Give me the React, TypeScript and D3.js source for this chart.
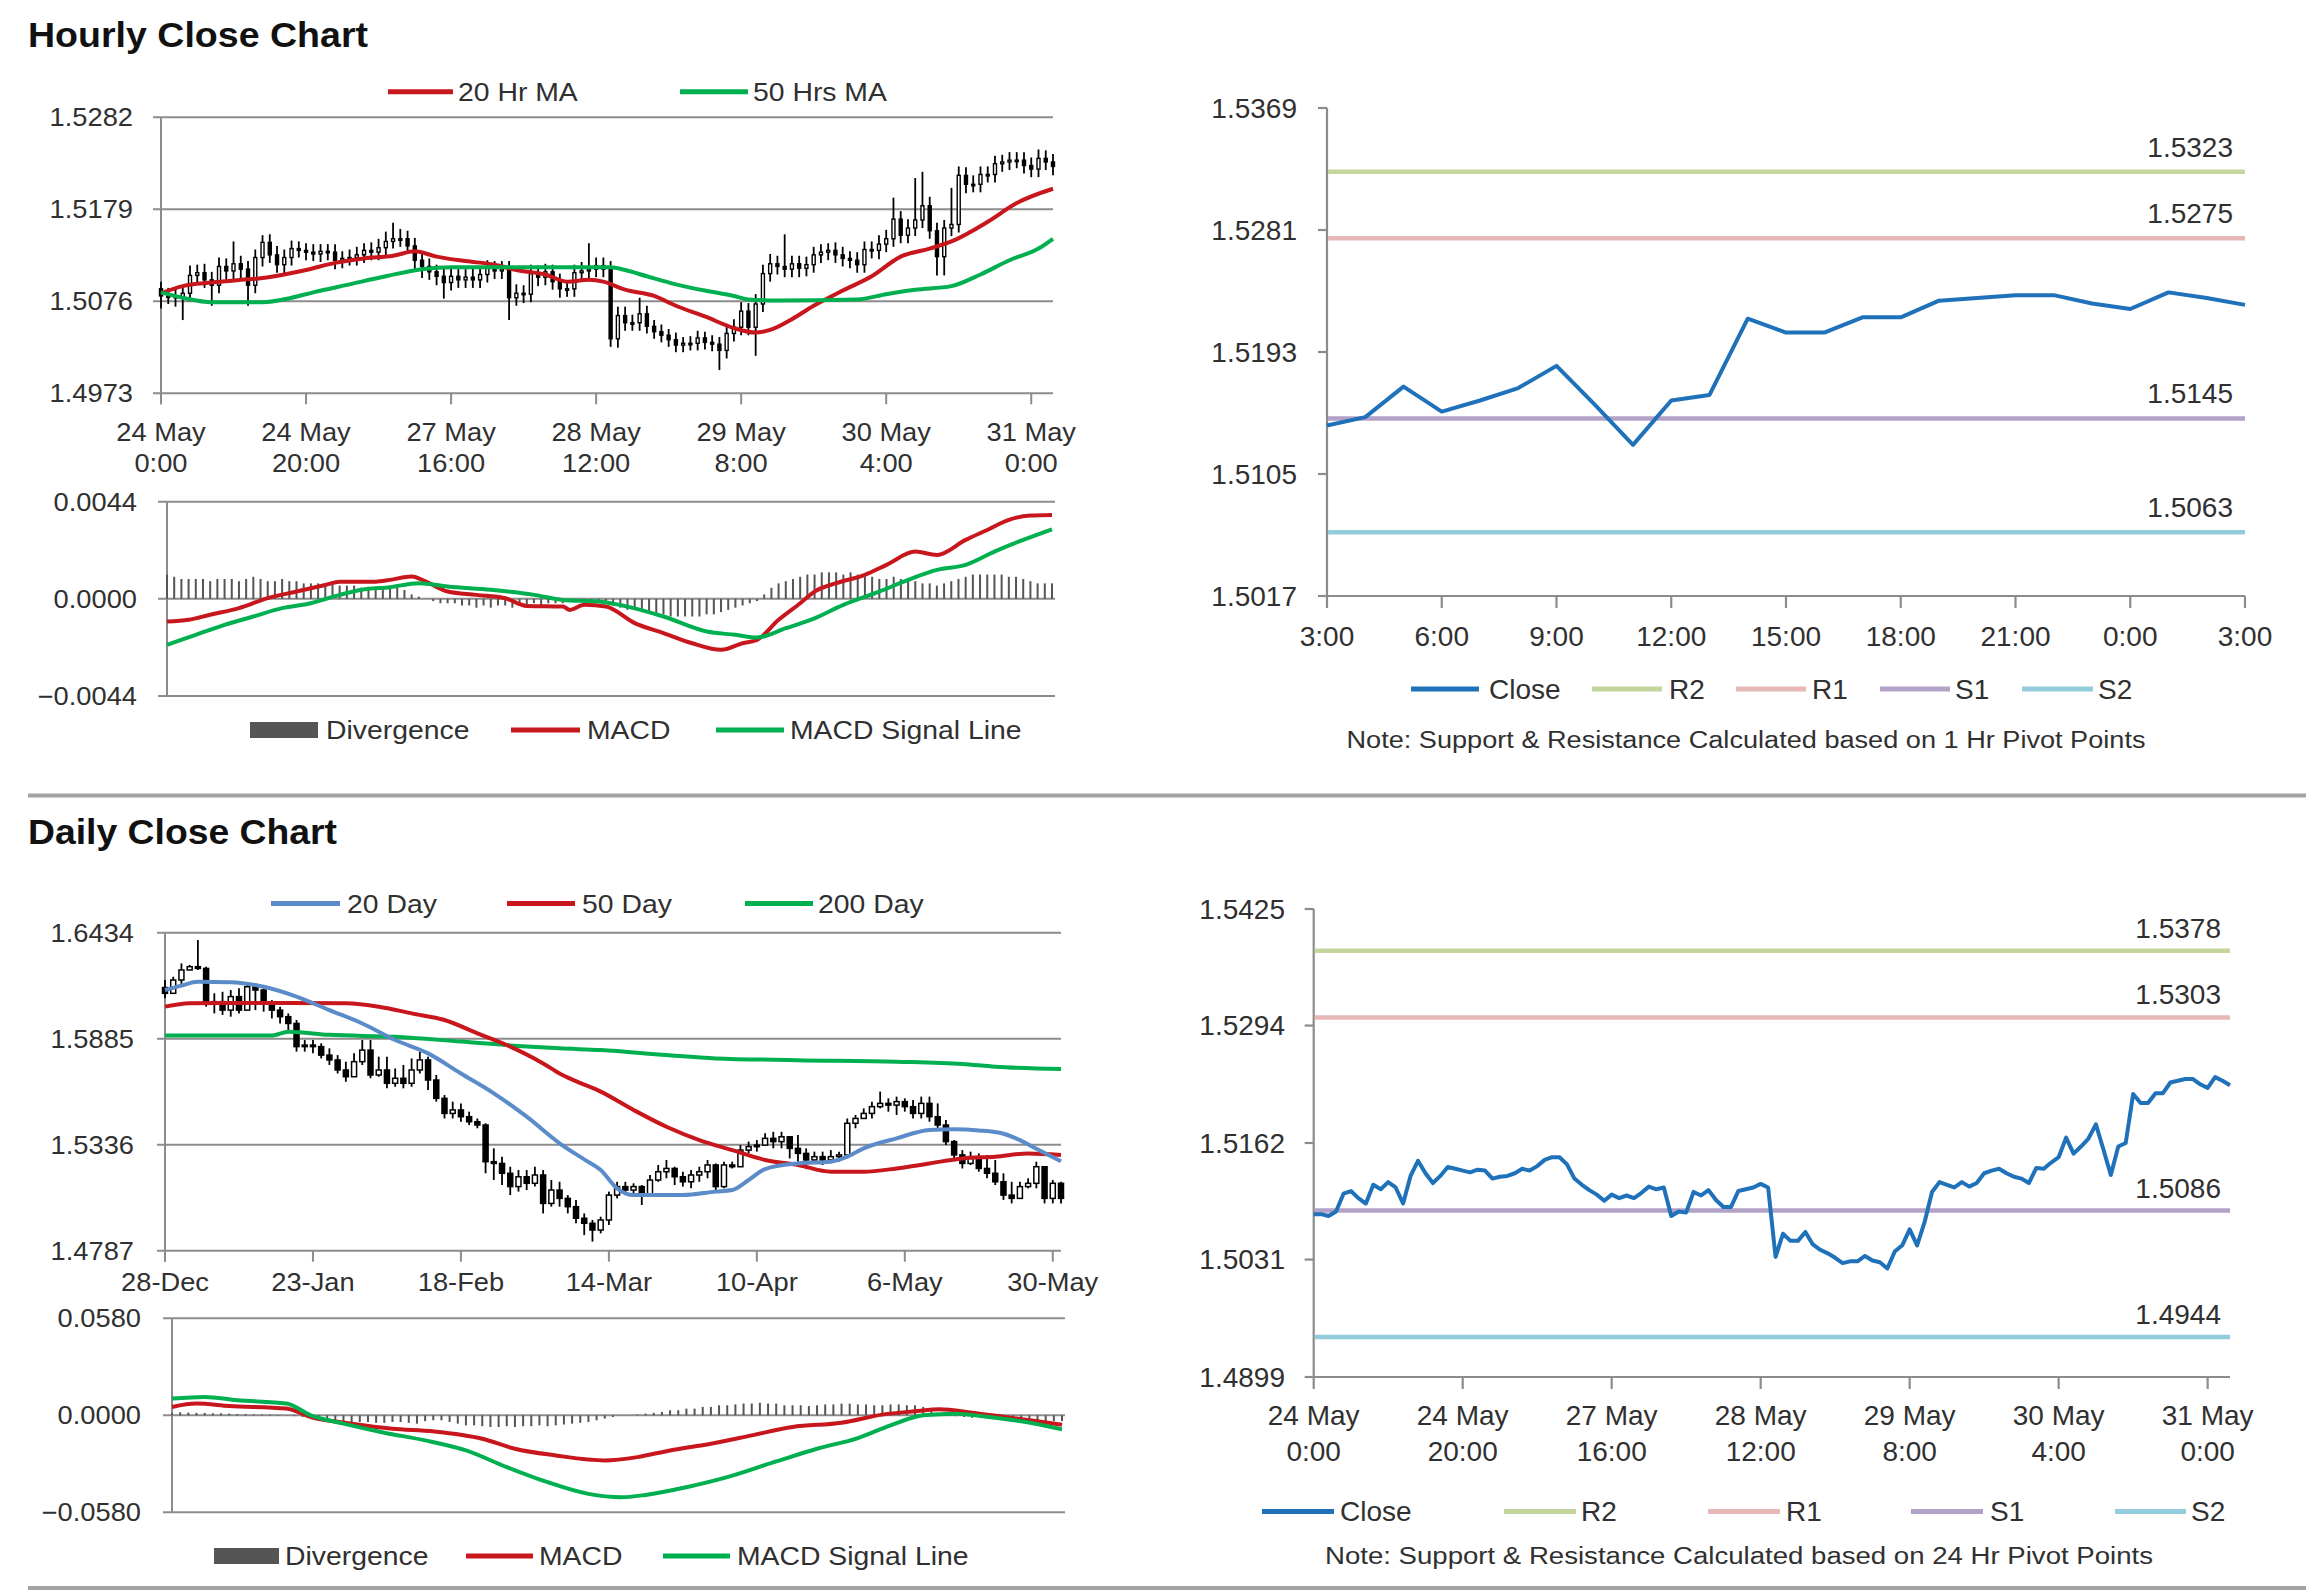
import React from "react";
import * as d3 from "d3";

// ===================== DATA =====================
// Hourly (24 May 0:00 .. 31 May 3:00), one value per hour bar
const hourlyClose = [
  1.5082, 1.5082, 1.5080, 1.5085, 1.5105, 1.5108, 1.5100, 1.5094, 1.5115, 1.5110,
  1.5118, 1.5112, 1.5094, 1.5125, 1.5142, 1.5128, 1.5117, 1.5125, 1.5135, 1.5133,
  1.5131, 1.5129, 1.5132, 1.5131, 1.5122, 1.5124, 1.5125, 1.5128, 1.5133, 1.5131,
  1.5136, 1.5143, 1.5146, 1.5146, 1.5138, 1.5122, 1.5115, 1.5109, 1.5104, 1.5097,
  1.5104, 1.5100, 1.5103, 1.5100, 1.5106, 1.5113, 1.5110, 1.5112, 1.5080, 1.5085,
  1.5084, 1.5107, 1.5103, 1.5109, 1.5098, 1.5090, 1.5090, 1.5108, 1.5110, 1.5112,
  1.5116, 1.5112, 1.5034, 1.5060, 1.5052, 1.5052, 1.5062, 1.5048, 1.5042, 1.5038,
  1.5033, 1.5027, 1.5029, 1.5029, 1.5035, 1.5030, 1.5028, 1.5021, 1.5040, 1.5047,
  1.5065, 1.5047, 1.5073, 1.5107, 1.5118, 1.5115, 1.5112, 1.5118, 1.5113, 1.5117,
  1.5128, 1.5131, 1.5133, 1.5128, 1.5124, 1.5122, 1.5117, 1.5134, 1.5133,
  1.5140, 1.5146, 1.5168, 1.5150, 1.5158, 1.5167, 1.5183, 1.5155, 1.5126, 1.5158,
  1.5162, 1.5217, 1.5207, 1.5207, 1.5218, 1.5218, 1.5230, 1.5232, 1.5234, 1.5234,
  1.5228, 1.5224, 1.5236, 1.5232, 1.5227,
];
const hourlyFirstOpen = 1.509;
// upper / lower shadows, in pips beyond the candle body
const hourlyWickUp = [
  8, 9, 8, 9, 11, 9, 10, 9, 10, 9, 25, 9, 9, 9, 8, 9, 10, 9, 9, 8,
  8, 9, 8, 8, 9, 8, 9, 9, 8, 9, 10, 11, 18, 11, 9, 9, 9, 9, 8, 9,
  9, 8, 9, 10, 8, 9, 8, 9, 9, 10, 9, 10, 9, 9, 8, 9, 9, 9, 10, 29,
  9, 9, 9, 10, 10, 9, 18, 9, 7, 8, 7, 8, 7, 8, 8, 7, 8, 8, 10, 9,
  10, 9, 11, 10, 11, 9, 36, 9, 9, 9, 9, 9, 8, 9, 9, 8, 9, 9, 9, 10,
  10, 24, 9, 10, 47, 38, 10, 9, 9, 41, 10, 9, 10, 9, 9, 9, 8, 9, 9, 9,
  9, 10, 9, 9,
];
const hourlyWickDown = [
  14, 9, 10, 25, 9, 10, 9, 23, 9, 10, 9, 10, 23, 9, 10, 9, 9, 10, 9, 8,
  9, 8, 9, 9, 10, 9, 8, 9, 9, 9, 9, 9, 8, 9, 9, 10, 13, 9, 10, 18,
  9, 9, 9, 9, 9, 9, 9, 9, 25, 9, 10, 9, 10, 9, 9, 10, 9, 9, 9, 9,
  9, 9, 9, 10, 9, 9, 9, 8, 8, 8, 8, 8, 8, 8, 8, 8, 8, 22, 9, 9,
  9, 9, 32, 9, 9, 9, 9, 9, 10, 9, 9, 9, 9, 9, 9, 9, 9, 9, 9, 10,
  9, 9, 9, 9, 9, 9, 9, 21, 21, 9, 9, 10, 9, 9, 9, 9, 9, 9, 9, 9,
  9, 9, 9, 10,
];
const hourlyPriceTicks = [1.4973, 1.5076, 1.5179, 1.5282];
const hourlyTickIdx = [0, 20, 40, 60, 80, 100, 120];
const hourlyTickDay = ["24 May", "24 May", "27 May", "28 May", "29 May", "30 May", "31 May"];
const hourlyTickTime = ["0:00", "20:00", "16:00", "12:00", "8:00", "4:00", "0:00"];
// [bar index, value]
const ma20Hr = [
  [0, 1.5085], [3, 1.5093], [7, 1.5097], [11, 1.51], [14, 1.5102], [17, 1.5106], [20, 1.5111],
  [24, 1.5119], [28, 1.5124], [32, 1.5127], [35, 1.5132], [38, 1.5126], [42, 1.5121], [46, 1.5117],
  [49, 1.5111], [53, 1.5106], [56, 1.5098], [59, 1.51], [61, 1.5098], [64, 1.5089], [68, 1.5082],
  [71, 1.5071], [75, 1.5059], [79, 1.5046], [82, 1.5041], [84, 1.5044], [87, 1.5056], [90, 1.5071],
  [94, 1.5088], [98, 1.5104], [102, 1.5126], [106, 1.5135], [109, 1.5143], [114, 1.5165],
  [118, 1.5186], [123, 1.5202],
];
const ma50Hrs = [
  [0, 1.5086], [3, 1.508], [7, 1.5075], [14, 1.5075], [18, 1.508], [21, 1.5086], [26, 1.5095],
  [31, 1.5104], [36, 1.5112], [40, 1.5114], [62, 1.5114], [64, 1.5111], [67, 1.5104], [71, 1.5095],
  [75, 1.5088], [79, 1.5082], [81, 1.5078], [85, 1.5077], [96, 1.5078], [100, 1.5084], [104, 1.5089],
  [109, 1.5093], [113, 1.5106], [117, 1.5122], [121, 1.5135], [123, 1.5146],
];
const hourlyMacdTicks = [-0.0044, 0, 0.0044];
const hourlyMacd = [
  [0, -0.00103], [3, -0.00095], [6, -0.00072], [10, -0.00042], [14, 0.00003], [18, 0.00033],
  [22, 0.00063], [24, 0.00078], [29, 0.00078], [31, 0.00086], [34, 0.00101], [36, 0.00078],
  [39, 0.00033], [43, 0.00018], [47, 0.00003], [50, -0.00032], [55, -0.00035], [56, -0.0005],
  [58, -0.00027], [61, -0.00035], [65, -0.0011], [69, -0.00155], [73, -0.00201], [77, -0.00231],
  [80, -0.00201], [82, -0.00186], [85, -0.00095], [88, -0.0002], [90, 0.00033], [93, 0.00071],
  [97, 0.00109], [100, 0.00154], [104, 0.00214], [107, 0.00199], [111, 0.00267], [114, 0.00312],
  [117, 0.00358], [120, 0.00377], [123, 0.0038],
];
const hourlySignal = [
  [0, -0.00208], [4, -0.00163], [8, -0.00118], [12, -0.0008], [16, -0.00042], [20, -0.0002],
  [24, 0.00018], [27, 0.00041], [31, 0.00053], [35, 0.00071], [39, 0.00056], [45, 0.00041],
  [51, 0.00018], [55, -0.00005], [60, -0.00012], [64, -0.00035], [69, -0.0008], [75, -0.00148],
  [79, -0.00163], [82, -0.00175], [86, -0.00133], [90, -0.00088], [94, -0.00027], [99, 0.00033],
  [103, 0.00086], [107, 0.00131], [111, 0.00154], [115, 0.00214], [119, 0.00267], [123, 0.00315],
];
const hourlyDivergence = [
  0.0011, 0.001, 0.0009, 0.0009, 0.0009, 0.0009, 0.0008, 0.0009, 0.0009, 0.0009,
  0.0008, 0.0009, 0.001, 0.0009, 0.0008, 0.0008, 0.0009, 0.0008, 0.0008, 0.0007,
  0.0007, 0.0007, 0.0006, 0.0007, 0.0006, 0.0006, 0.0006, 0.0005, 0.0005, 0.0005,
  0.0005, 0.0005, 0.0006, 0.0004, 0.0002, 0.0001, 0.0, -0.0001, -0.0002, -0.0002,
  -0.0002, -0.0003, -0.0003, -0.0004, -0.0003, -0.0004, -0.0003, -0.0003, -0.0004, -0.0003,
  -0.0003, -0.0002, -0.0003, -0.0002, -0.0002, -0.0002, -0.0001, -0.0001, -0.0001, -0.0001,
  -0.0001, -0.0002, -0.0003, -0.0004, -0.0005, -0.0005, -0.0006, -0.0006, -0.0007, -0.0007,
  -0.0008, -0.0008, -0.0008, -0.0008, -0.0008, -0.0007, -0.0007, -0.0006, -0.0005, -0.0004,
  -0.0003, -0.0002, -0.0001, 0.0002, 0.0005, 0.0007, 0.0008, 0.0009, 0.001, 0.0011,
  0.0011, 0.0012, 0.0012, 0.0012, 0.0011, 0.0012, 0.0011, 0.001, 0.001, 0.0009,
  0.0009, 0.001, 0.0009, 0.0009, 0.0008, 0.0007, 0.0007, 0.0006, 0.0007, 0.0008,
  0.0009, 0.001, 0.0011, 0.0011, 0.0011, 0.0011, 0.0011, 0.001, 0.001, 0.0009,
  0.0008, 0.0007, 0.0007, 0.0007,
];

// Hourly pivot chart (last 24 hours of hourlyClose: 30 May 3:00 .. 31 May 3:00)
const hourlyPivotStart = 99;
const hourlyPivotTicks = [1.5017, 1.5105, 1.5193, 1.5281, 1.5369];
const hourlyPivotTimes = ["3:00", "6:00", "9:00", "12:00", "15:00", "18:00", "21:00", "0:00", "3:00"];
const pivotNames = ["R2", "R1", "S1", "S2"];
const hourlyPivotValues = [1.5323, 1.5275, 1.5145, 1.5063];

// Daily (28-Dec .. 31-May), one value per trading day
const dailyFirstOpen = 1.615;
const dailyClose = [
  1.612, 1.6189, 1.6241, 1.6258, 1.6249, 1.6068, 1.6077, 1.6033, 1.6103, 1.6033,
  1.6154, 1.6137, 1.6068, 1.6033, 1.5999, 1.5964, 1.5844, 1.5852, 1.5844, 1.58,
  1.5775, 1.5723, 1.5688, 1.5766, 1.5826, 1.5697, 1.5723, 1.5654, 1.568, 1.5654,
  1.5723, 1.5775, 1.5671, 1.5576, 1.5498, 1.5516, 1.5481, 1.5455, 1.5438, 1.5248,
  1.5239, 1.5188, 1.5119, 1.517, 1.5136, 1.5179, 1.5032, 1.5101, 1.5058, 1.5015,
  1.4955, 1.4929, 1.4894, 1.4946, 1.5075, 1.5119, 1.5101, 1.5119, 1.5075, 1.5153,
  1.5196, 1.5213, 1.517, 1.5144, 1.5179, 1.5196, 1.5231, 1.5119, 1.5231, 1.5222,
  1.5308, 1.5326, 1.5334, 1.5369, 1.5352, 1.5377, 1.5317, 1.5291, 1.5257, 1.5274,
  1.5257, 1.5274, 1.5283, 1.5447, 1.5472, 1.5498, 1.5533, 1.555, 1.5541, 1.5559,
  1.5533, 1.5498, 1.555, 1.5481, 1.5438, 1.5352, 1.5283, 1.5239, 1.5265, 1.5213,
  1.5188, 1.5144, 1.5075, 1.5058, 1.5119, 1.5136, 1.5222, 1.5058, 1.5136, 1.5058,
];
const dailyHigh = [
  1.6189, 1.6206, 1.6275, 1.6267, 1.6396, 1.6258, 1.612, 1.6128, 1.6137, 1.6146,
  1.6172, 1.6172, 1.6146, 1.6085, 1.6051, 1.6016, 1.5982, 1.5878, 1.5878, 1.5861,
  1.5835, 1.58, 1.5766, 1.5809, 1.5878, 1.5878, 1.5792, 1.5792, 1.5731, 1.5749,
  1.5783, 1.5818, 1.5792, 1.5697, 1.5593, 1.5559, 1.555, 1.5507, 1.5472, 1.5447,
  1.5317, 1.5274, 1.5222, 1.5205, 1.5205, 1.5222, 1.5205, 1.5153, 1.5144, 1.5075,
  1.505, 1.498, 1.4946, 1.4963, 1.5093, 1.5144, 1.5144, 1.5136, 1.5127, 1.5179,
  1.5231, 1.5257, 1.5222, 1.5196, 1.5205, 1.5222, 1.5257, 1.5239, 1.5248, 1.5248,
  1.5334, 1.5352, 1.536, 1.5395, 1.5403, 1.5403, 1.5377, 1.5386, 1.5317, 1.53,
  1.53, 1.5308, 1.53, 1.5472, 1.549, 1.5524, 1.5559, 1.5611, 1.5576, 1.5585,
  1.5576, 1.5567, 1.5585, 1.5585, 1.555, 1.5464, 1.536, 1.5308, 1.53, 1.5291,
  1.5283, 1.5257, 1.5188, 1.5144, 1.5144, 1.5162, 1.5248, 1.5144, 1.5153, 1.5144,
];
const dailyLow = [
  1.6094, 1.612, 1.6163, 1.6241, 1.6241, 1.6051, 1.6016, 1.6008, 1.5999, 1.6016,
  1.6033, 1.6033, 1.6025, 1.599, 1.5964, 1.593, 1.5818, 1.5818, 1.5809, 1.5783,
  1.5749, 1.5705, 1.5662, 1.5688, 1.5749, 1.568, 1.5688, 1.5628, 1.5636, 1.5628,
  1.5636, 1.5705, 1.5619, 1.5559, 1.5472, 1.5472, 1.5455, 1.5438, 1.5421, 1.5188,
  1.5153, 1.5127, 1.5075, 1.5093, 1.5101, 1.5119, 1.498, 1.5015, 1.5015, 1.498,
  1.4929, 1.4868, 1.4834, 1.4877, 1.492, 1.5058, 1.5075, 1.5067, 1.5024, 1.5093,
  1.5144, 1.5162, 1.5127, 1.5119, 1.511, 1.5144, 1.5162, 1.5093, 1.511, 1.5213,
  1.5248, 1.5291, 1.53, 1.5334, 1.5317, 1.5317, 1.5265, 1.5248, 1.5231, 1.5239,
  1.5231, 1.5248, 1.5248, 1.5265, 1.5421, 1.5472, 1.5472, 1.5524, 1.5507, 1.549,
  1.5507, 1.5472, 1.5472, 1.5455, 1.5421, 1.5334, 1.5265, 1.5213, 1.5231, 1.5196,
  1.5162, 1.5127, 1.505, 1.5032, 1.5093, 1.511, 1.511, 1.5032, 1.5032, 1.5032,
];
const dailyPriceTicks = [1.4787, 1.5336, 1.5885, 1.6434];
const dailyTickIdx = [0, 18, 36, 54, 72, 90, 108];
const dailyTickLabels = ["28-Dec", "23-Jan", "18-Feb", "14-Mar", "10-Apr", "6-May", "30-May"];
const ma20Day = [
  [0, 1.6137], [2, 1.616], [4, 1.618], [8, 1.6178], [12, 1.6154], [16, 1.6103], [20, 1.6033],
  [24, 1.5964], [28, 1.5878], [32, 1.5809], [36, 1.5705], [40, 1.5602], [44, 1.5481], [48, 1.5343],
  [51, 1.526], [53, 1.5205], [55, 1.511], [57, 1.5075], [63, 1.5075], [67, 1.5093], [69, 1.5101],
  [71, 1.5153], [73, 1.521], [77, 1.5239], [81, 1.5248], [83, 1.5274], [85, 1.5317], [89, 1.5369],
  [93, 1.5412], [96, 1.5416], [99, 1.541], [102, 1.5393], [104, 1.536], [106, 1.5315], [109, 1.525],
];
const ma50Day = [
  [0, 1.6051], [3, 1.6068], [8, 1.607], [15, 1.607], [22, 1.6068], [26, 1.6051], [30, 1.6016],
  [34, 1.5982], [38, 1.5913], [42, 1.5844], [46, 1.5757], [48, 1.5705], [50, 1.5665], [53, 1.5611],
  [57, 1.5516], [61, 1.5429], [65, 1.536], [69, 1.5308], [73, 1.5257], [77, 1.5231], [81, 1.5196],
  [85, 1.5196], [89, 1.5213], [93, 1.5239], [97, 1.5265], [101, 1.5274], [105, 1.5291], [109, 1.5283],
];
const ma200Day = [
  [0, 1.5901], [13, 1.5901], [15, 1.5921], [20, 1.5905], [28, 1.5895], [36, 1.587], [44, 1.5845],
  [48, 1.5835], [53, 1.5826], [61, 1.58], [67, 1.5783], [77, 1.5774], [89, 1.5766], [97, 1.5754],
  [101, 1.574], [109, 1.5728],
];
const dailyMacdTicks = [-0.058, 0, 0.058];
const dailyMacd = [
  [0, 0.005], [3, 0.007], [7, 0.0056], [14, 0.004], [17, -0.001], [22, -0.005], [27, -0.008],
  [32, -0.0096], [38, -0.014], [42, -0.02], [47, -0.024], [53, -0.027], [57, -0.025], [61, -0.021],
  [66, -0.017], [71, -0.012], [76, -0.007], [82, -0.0044], [87, 0.0004], [91, 0.0024], [94, 0.0036],
  [98, 0.0016], [102, -0.001], [106, -0.0036], [109, -0.0056],
];
const dailySignal = [
  [0, 0.01], [4, 0.011], [8, 0.009], [14, 0.007], [17, 0.0], [21, -0.005], [26, -0.0104],
  [31, -0.015], [36, -0.021], [41, -0.031], [46, -0.04], [51, -0.047], [55, -0.049], [58, -0.0476],
  [63, -0.043], [68, -0.037], [74, -0.0276], [79, -0.02], [84, -0.0136], [88, -0.006], [92, 0.0],
  [96, 0.001], [99, -0.0004], [104, -0.0036], [109, -0.0084],
];
const dailyDivergence = [
  0.0015, 0.0018, 0.0016, 0.0015, 0.0014, 0.0012, 0.0012, 0.001, 0.0008, 0.0008,
  0.0006, 0.0005, 0.0004, 0.0003, 0.0001, -0.0005, -0.001, -0.0015, -0.002, -0.0025,
  -0.003, -0.0035, -0.004, -0.004, -0.004, -0.0045, -0.0045, -0.004, -0.004, -0.0045,
  -0.005, -0.0035, -0.003, -0.003, -0.004, -0.005, -0.006, -0.006, -0.0065, -0.007,
  -0.007, -0.0065, -0.007, -0.0065, -0.0065, -0.006, -0.0065, -0.006, -0.0055, -0.005,
  -0.0045, -0.004, -0.003, -0.002, -0.001, 0.0, 0.0, 0.0005, 0.001, 0.0015,
  0.002, 0.003, 0.003, 0.004, 0.004, 0.005, 0.005, 0.006, 0.006, 0.0065,
  0.007, 0.007, 0.0075, 0.007, 0.007, 0.006, 0.006, 0.006, 0.0055, 0.006,
  0.0065, 0.0065, 0.007, 0.007, 0.0065, 0.0065, 0.006, 0.006, 0.0065, 0.0065,
  0.006, 0.006, 0.005, 0.003, 0.001, 0.0, -0.0005, -0.001, -0.0015, -0.0015,
  -0.002, -0.002, -0.0025, -0.0025, -0.003, -0.003, -0.003, -0.0035, -0.0035, -0.0035,
];

// 24 Hr pivot chart (uses the full hourly close series)
const dailyPivotTicks = [1.4899, 1.5031, 1.5162, 1.5294, 1.5425];
const dailyPivotValues = [1.5378, 1.5303, 1.5086, 1.4944];

// ===================== STYLE =====================
const FONT = "'Liberation Sans', Arial, Helvetica, sans-serif";
const C = {
  text: "#303030",
  grid: "#8c8c8c",
  sep: "#a3a3a3",
  red: "#c8161d",
  green: "#00b050",
  blue: "#5b8cc9",
  close: "#1f71ba",
  div: "#555555",
};
const pivotColors = ["#c3d69b", "#e6b9b8", "#b3a2c7", "#93cddd"];
const LSX = 1.07; // horizontal stretch of left-column texts
const fmt4 = d3.format(".4f");

function Txt({ x, cy, size, anchor = "start", sx = 1, fill = C.text, weight = 400, textLength, children }: any) {
  const by = cy + size * 0.355;
  return (
    <text
      transform={`translate(${x},${by}) scale(${sx},1)`}
      fontFamily={FONT}
      fontSize={size}
      textAnchor={anchor}
      fill={fill}
      fontWeight={weight}
      textLength={textLength}
      lengthAdjust={textLength ? "spacingAndGlyphs" : undefined}
    >
      {children}
    </text>
  );
}

function LegendLine({ x1, x2, cy, color, label, tx, size, sx = 1 }: any) {
  return (
    <g>
      <line x1={x1} x2={x2} y1={cy} y2={cy} stroke={color} strokeWidth={5} />
      <Txt x={tx} cy={cy} size={size} sx={sx}>{label}</Txt>
    </g>
  );
}

function Candles({ close, high, low, firstOpen, x, y, w, sw, ww }: any) {
  return (
    <g>
      {close.map((c: number, i: number) => {
        const o = i === 0 ? firstOpen : close[i - 1];
        const up = c >= o;
        const top = y(Math.max(o, c));
        const bot = y(Math.min(o, c));
        const cx = x(i);
        return (
          <g key={i}>
            <line x1={cx} x2={cx} y1={y(high[i])} y2={y(low[i])} stroke="#000" strokeWidth={ww} />
            <rect
              x={cx - w / 2}
              y={top}
              width={w}
              height={Math.max(bot - top, 1.5)}
              fill={up ? "#fff" : "#000"}
              stroke="#000"
              strokeWidth={sw}
            />
          </g>
        );
      })}
    </g>
  );
}

function pairLine(x: any, y: any) {
  return d3
    .line<number[]>()
    .x((d) => x(d[0]))
    .y((d) => y(d[1]))
    .curve(d3.curveMonotoneX);
}

// ---------- Left price panel (candles + moving averages) ----------
function PricePanel({ x, y, ticks, labelRight, candles, mas, xTickIdx, xLabelLines, xLabelY }: any) {
  const [x0, x1] = x.range();
  const [yb, yt] = y.range();
  return (
    <g>
      {ticks.map((t: number) => (
        <g key={t}>
          <line x1={x0 - 8} x2={x1} y1={y(t)} y2={y(t)} stroke={C.grid} strokeWidth={2} />
          <Txt x={labelRight} cy={y(t)} size={25.5} anchor="end" sx={LSX}>{fmt4(t)}</Txt>
        </g>
      ))}
      <line x1={x0} x2={x0} y1={yt} y2={yb + 11} stroke={C.grid} strokeWidth={2} />
      {xTickIdx.map((t: number, k: number) => (
        <g key={k}>
          <line x1={x(t)} x2={x(t)} y1={yb} y2={yb + 11} stroke={C.grid} strokeWidth={2} />
          {xLabelLines.map((lines: string[], j: number) => (
            <Txt key={j} x={x(t)} cy={xLabelY[j]} size={25.5} anchor="middle" sx={LSX}>{lines[k]}</Txt>
          ))}
        </g>
      ))}
      <Candles {...candles} x={x} y={y} />
      {mas.map((m: any, k: number) => (
        <path key={k} d={pairLine(x, y)(m.data) || ""} fill="none" stroke={m.color} strokeWidth={4} strokeLinejoin="round" />
      ))}
    </g>
  );
}

// ---------- Left MACD panel ----------
function MacdPanel({ x, y, ticks, labelRight, macd, signal, divergence, barW }: any) {
  const [x0, x1] = x.range();
  const [yb, yt] = y.range();
  const line = pairLine(x, y);
  return (
    <g>
      {ticks.map((t: number) => (
        <g key={t}>
          <line x1={x0 - 9} x2={x1 + 3} y1={y(t)} y2={y(t)} stroke={C.grid} strokeWidth={2} />
          <Txt x={labelRight} cy={y(t)} size={25.5} anchor="end" sx={LSX}>{fmt4(t)}</Txt>
        </g>
      ))}
      <line x1={x0} x2={x0} y1={yt} y2={yb} stroke={C.grid} strokeWidth={2} />
      {divergence.map((v: number, i: number) => (
        <rect
          key={i}
          x={x(i) - barW / 2}
          y={Math.min(y(0), y(v))}
          width={barW}
          height={Math.abs(y(v) - y(0))}
          fill={C.div}
        />
      ))}
      <path d={line(macd) || ""} fill="none" stroke={C.red} strokeWidth={4} />
      <path d={line(signal) || ""} fill="none" stroke={C.green} strokeWidth={4} />
    </g>
  );
}

// ---------- Right pivot panel ----------
function PivotPanel({ x, y, ticks, labelRight, closePts, levels, levelLabelRight, levelLabelDy, xTicks, xLabelLines, xLabelY, size }: any) {
  const [x0, x1] = x.range();
  const [yb, yt] = y.range();
  const closeLine = d3
    .line<number>()
    .x((_, i) => x(closePts.offset + i))
    .y((d) => y(d));
  return (
    <g>
      <line x1={x0} x2={x0} y1={yt} y2={yb} stroke={C.grid} strokeWidth={2.2} />
      <line x1={x0} x2={x1} y1={yb} y2={yb} stroke={C.grid} strokeWidth={2.2} />
      {ticks.map((t: number) => (
        <g key={t}>
          <line x1={x0 - 9} x2={x0} y1={y(t)} y2={y(t)} stroke={C.grid} strokeWidth={2.2} />
          <Txt x={labelRight} cy={y(t)} size={size} anchor="end">{fmt4(t)}</Txt>
        </g>
      ))}
      {xTicks.map((t: number, k: number) => (
        <g key={k}>
          <line x1={x(t)} x2={x(t)} y1={yb} y2={yb + 12} stroke={C.grid} strokeWidth={2.2} />
          {xLabelLines.map((lines: string[], j: number) => (
            <Txt key={j} x={x(t)} cy={xLabelY[j]} size={size} anchor="middle">{lines[k]}</Txt>
          ))}
        </g>
      ))}
      {levels.map((v: number, k: number) => (
        <g key={k}>
          <line x1={x0 + 1} x2={x1} y1={y(v)} y2={y(v)} stroke={pivotColors[k]} strokeWidth={4.5} />
          <Txt x={levelLabelRight} cy={y(v) - levelLabelDy} size={size} anchor="end">{fmt4(v)}</Txt>
        </g>
      ))}
      <path d={closeLine(closePts.values) || ""} fill="none" stroke={C.close} strokeWidth={4} strokeLinejoin="round" />
    </g>
  );
}

function PivotLegend({ cy, items, size }: any) {
  return (
    <g>
      {items.map((it: any, k: number) => (
        <LegendLine key={k} x1={it[0]} x2={it[1]} tx={it[2]} cy={cy} color={k === 0 ? C.close : pivotColors[k - 1]} label={k === 0 ? "Close" : pivotNames[k - 1]} size={size} />
      ))}
    </g>
  );
}

export default function App() {
  // ----- hourly candles -----
  const hOpen = hourlyClose.map((c, i) => (i === 0 ? hourlyFirstOpen : hourlyClose[i - 1]));
  const hHigh = hourlyClose.map((c, i) => Math.max(c, hOpen[i]) + hourlyWickUp[i] * 1e-4);
  const hLow = hourlyClose.map((c, i) => Math.min(c, hOpen[i]) - hourlyWickDown[i] * 1e-4);
  const nH = hourlyClose.length - 1;

  const hx = d3.scaleLinear().domain([0, nH]).range([161, 1053]);
  const hy = d3.scaleLinear().domain([1.4973, 1.5282]).range([393.3, 117.3]);
  const mhx = d3.scaleLinear().domain([0, nH]).range([167, 1052]);
  const mhy = d3.scaleLinear().domain([-0.0044, 0.0044]).range([696, 501.7]);

  const nPiv = hourlyClose.length - 1 - hourlyPivotStart;
  const phx = d3.scaleLinear().domain([0, nPiv]).range([1327, 2245]);
  const phy = d3.scaleLinear().domain([1.5017, 1.5369]).range([596, 108]);

  const nD = dailyClose.length - 1;
  const dx = d3.scaleLinear().domain([0, nD]).range([165, 1061]);
  const dy = d3.scaleLinear().domain([1.4787, 1.6434]).range([1250.7, 932.7]);
  const mdx = d3.scaleLinear().domain([0, nD]).range([172, 1062]);
  const mdy = d3.scaleLinear().domain([-0.058, 0.058]).range([1512.3, 1318.3]);

  const pdx = d3.scaleLinear().domain([0, nH]).range([1313.7, 2230]);
  const pdy = d3.scaleLinear().domain([1.4899, 1.5425]).range([1377, 909]);

  return (
    <svg width={2306} height={1591} style={{ position: "absolute", left: 0, top: 0, background: "#fff" }}>
      <rect x={0} y={0} width={2306} height={1591} fill="#fff" />

      {/* Titles */}
      <Txt x={28} cy={35} size={35} weight={700} fill="#111" textLength={340}>Hourly Close Chart</Txt>
      <Txt x={28} cy={832} size={35} weight={700} fill="#111" textLength={309}>Daily Close Chart</Txt>

      {/* separators */}
      <line x1={28} x2={2306} y1={795.5} y2={795.5} stroke={C.sep} strokeWidth={4} />
      <line x1={28} x2={2306} y1={1588} y2={1588} stroke={C.sep} strokeWidth={4} />

      {/* ---------- Panel 1: hourly candles ---------- */}
      <LegendLine x1={388} x2={453} tx={458} cy={91.7} color={C.red} label="20 Hr MA" size={26.5} sx={LSX} />
      <LegendLine x1={680} x2={748} tx={753} cy={91.7} color={C.green} label="50 Hrs MA" size={26.5} sx={LSX} />
      <PricePanel
        x={hx}
        y={hy}
        ticks={hourlyPriceTicks}
        labelRight={133}
        candles={{ close: hourlyClose, high: hHigh, low: hLow, firstOpen: hourlyFirstOpen, w: 3, sw: 1.4, ww: 1.8 }}
        mas={[
          { data: ma20Hr, color: C.red },
          { data: ma50Hrs, color: C.green },
        ]}
        xTickIdx={hourlyTickIdx}
        xLabelLines={[hourlyTickDay, hourlyTickTime]}
        xLabelY={[431.7, 463.3]}
      />

      {/* ---------- Panel 2: hourly MACD ---------- */}
      <MacdPanel
        x={mhx}
        y={mhy}
        ticks={hourlyMacdTicks}
        labelRight={137}
        macd={hourlyMacd}
        signal={hourlySignal}
        divergence={hourlyDivergence}
        barW={2}
      />
      <rect x={250} y={722} width={68} height={16} fill={C.div} />
      <Txt x={326} cy={730} size={26.5} sx={LSX}>Divergence</Txt>
      <LegendLine x1={511} x2={580} tx={587} cy={730} color={C.red} label="MACD" size={26.5} sx={LSX} />
      <LegendLine x1={716} x2={784} tx={790} cy={730} color={C.green} label="MACD Signal Line" size={26.5} sx={LSX} />

      {/* ---------- Panel 3: hourly pivot ---------- */}
      <PivotPanel
        x={phx}
        y={phy}
        ticks={hourlyPivotTicks}
        labelRight={1297}
        closePts={{ offset: 0, values: hourlyClose.slice(hourlyPivotStart) }}
        levels={hourlyPivotValues}
        levelLabelRight={2233}
        levelLabelDy={25}
        xTicks={d3.range(0, nPiv + 1, 3)}
        xLabelLines={[hourlyPivotTimes]}
        xLabelY={[636]}
        size={28}
      />
      <PivotLegend
        cy={689}
        size={28}
        items={[
          [1411, 1479, 1489],
          [1592, 1662, 1669],
          [1736, 1806, 1812],
          [1880, 1950, 1955],
          [2022, 2093, 2098],
        ]}
      />
      <Txt x={1746} cy={740} size={23} anchor="middle" textLength={799}>
        Note: Support &amp; Resistance Calculated based on 1 Hr Pivot Points
      </Txt>

      {/* ---------- Panel 4: daily candles ---------- */}
      <LegendLine x1={271} x2={340} tx={347} cy={903.5} color={C.blue} label="20 Day" size={26.5} sx={LSX} />
      <LegendLine x1={507} x2={575} tx={582} cy={903.5} color={C.red} label="50 Day" size={26.5} sx={LSX} />
      <LegendLine x1={745} x2={813} tx={818} cy={903.5} color={C.green} label="200 Day" size={26.5} sx={LSX} />
      <PricePanel
        x={dx}
        y={dy}
        ticks={dailyPriceTicks}
        labelRight={134}
        candles={{ close: dailyClose, high: dailyHigh, low: dailyLow, firstOpen: dailyFirstOpen, w: 5, sw: 1.5, ww: 1.8 }}
        mas={[
          { data: ma200Day, color: C.green },
          { data: ma50Day, color: C.red },
          { data: ma20Day, color: C.blue },
        ]}
        xTickIdx={dailyTickIdx}
        xLabelLines={[dailyTickLabels]}
        xLabelY={[1281.7]}
      />

      {/* ---------- Panel 5: daily MACD ---------- */}
      <MacdPanel
        x={mdx}
        y={mdy}
        ticks={dailyMacdTicks}
        labelRight={141}
        macd={dailyMacd}
        signal={dailySignal}
        divergence={dailyDivergence}
        barW={2}
      />
      <rect x={214} y={1548} width={65} height={16} fill={C.div} />
      <Txt x={285} cy={1556} size={26.5} sx={LSX}>Divergence</Txt>
      <LegendLine x1={466} x2={533} tx={539} cy={1556} color={C.red} label="MACD" size={26.5} sx={LSX} />
      <LegendLine x1={663} x2={730} tx={737} cy={1556} color={C.green} label="MACD Signal Line" size={26.5} sx={LSX} />

      {/* ---------- Panel 6: 24 Hr pivot ---------- */}
      <PivotPanel
        x={pdx}
        y={pdy}
        ticks={dailyPivotTicks}
        labelRight={1285}
        closePts={{ offset: 0, values: hourlyClose }}
        levels={dailyPivotValues}
        levelLabelRight={2221}
        levelLabelDy={23}
        xTicks={hourlyTickIdx}
        xLabelLines={[hourlyTickDay, hourlyTickTime]}
        xLabelY={[1415, 1451]}
        size={28}
      />
      <PivotLegend
        cy={1511.5}
        size={28}
        items={[
          [1262, 1334, 1340],
          [1504, 1576, 1581],
          [1708, 1780, 1786],
          [1911, 1983, 1990],
          [2115, 2186, 2191],
        ]}
      />
      <Txt x={1739} cy={1556} size={23} anchor="middle" textLength={828}>
        Note: Support &amp; Resistance Calculated based on 24 Hr Pivot Points
      </Txt>
    </svg>
  );
}
